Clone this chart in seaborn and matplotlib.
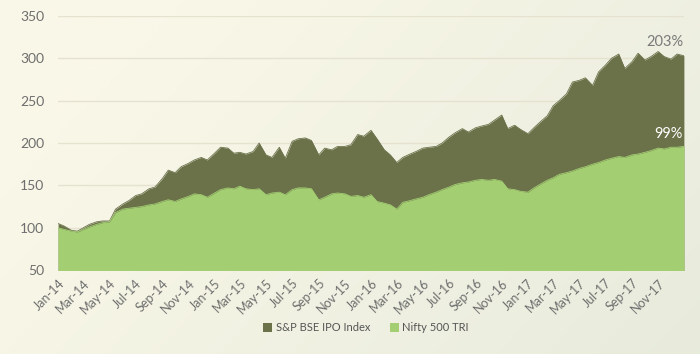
import numpy as np
import pandas as pd
import seaborn as sns
import matplotlib.pyplot as plt
import matplotlib.dates as mdates

# semi-monthly readings (1st and 16th of each month), Jan-2014 .. Dec-2017, plus year end
dates = list(pd.date_range("2014-01-01", "2017-12-16", freq="SMS")) + [pd.Timestamp("2017-12-31")]

ipo_index = [
    105, 102, 97, 96, 100, 104, 107, 108, 108, 122, 128, 132,
    138, 140, 146, 148, 158, 168, 165, 172, 176, 180, 183, 180,
    188, 195, 194, 188, 189, 187, 190, 200, 186, 183, 195, 182,
    202, 205, 206, 203, 186, 194, 192, 196, 196, 198, 210, 208,
    215, 205, 192, 186, 177, 183, 187, 190, 194, 195, 196, 200,
    207, 212, 217, 213, 218, 220, 222, 227, 233, 217, 221, 216,
    211, 218, 226, 232, 244, 250, 258, 272, 274, 277, 268, 284,
    292, 300, 305, 288, 296, 306, 298, 302, 308, 302, 299, 305,
    303,
]
nifty_500 = [
    100, 98, 96, 95, 98, 101, 104, 106, 107, 118, 122, 123,
    124, 125, 127, 128, 131, 133, 131, 134, 137, 140, 139, 136,
    141, 145, 147, 146, 149, 146, 145, 146, 139, 141, 142, 139,
    145, 147, 147, 146, 133, 136, 140, 141, 140, 137, 138, 136,
    139, 131, 129, 127, 122, 130, 132, 134, 136, 139, 142, 145,
    148, 151, 153, 154, 156, 157, 156, 157, 155, 146, 145, 143,
    142, 147, 152, 156, 159, 163, 165, 167, 170, 172, 175, 177,
    180, 182, 184, 183, 186, 187, 189, 191, 194, 193, 195, 195,
    196,
]

df = pd.DataFrame({"date": dates, "S&P BSE IPO Index": ipo_index, "Nifty 500 TRI": nifty_500})

DARK = "#6b724a"
LIGHT = "#a3cf72"
BG = "#f7f5e5"

sns.set_theme(style="white")
plt.rcParams["font.family"] = ["Lato", "DejaVu Sans"]

fig = plt.figure(figsize=(7, 3.54), dpi=100)
fig.patch.set_facecolor(BG)

# soft background gradient (cream to pale green-grey)
bg_ax = fig.add_axes([0, 0, 1, 1], zorder=-1)
grad = np.linspace(0, 1, 256)
gx, gy = np.meshgrid(grad, grad)
mix = np.clip(0.75 * gx + 0.35 * gy - 0.2, 0, 1)[..., None]
c1 = np.array([0xf9, 0xf7, 0xe8]) / 255
c2 = np.array([0xe6, 0xea, 0xdb]) / 255
bg_ax.imshow(c1 * (1 - mix) + c2 * mix, aspect="auto", extent=[0, 1, 0, 1])
bg_ax.axis("off")

ax = fig.add_axes([0.083, 0.237, 0.894, 0.718])
ax.set_facecolor("none")

sns.lineplot(data=df, x="date", y="S&P BSE IPO Index", ax=ax, color=DARK,
             linewidth=0.6, legend=False)
h_ipo = ax.fill_between(df["date"], 0, df["S&P BSE IPO Index"], color=DARK, linewidth=0)
sns.lineplot(data=df, x="date", y="Nifty 500 TRI", ax=ax, color=LIGHT,
             linewidth=0.6, legend=False)
h_nifty = ax.fill_between(df["date"], 0, df["Nifty 500 TRI"], color=LIGHT, linewidth=0)

ax.set_ylim(50, 350)
ax.set_yticks([50, 100, 150, 200, 250, 300, 350])
ax.set_xlim(pd.Timestamp("2014-01-01"), pd.Timestamp("2017-12-31"))
ax.xaxis.set_major_locator(mdates.MonthLocator(bymonth=[1, 3, 5, 7, 9, 11]))
ax.xaxis.set_major_formatter(mdates.DateFormatter("%b-%y"))
ax.set_xlabel("")
ax.set_ylabel("")

ax.grid(axis="y", color="#e6e2d0", linewidth=1)
ax.set_axisbelow(True)
for s in ax.spines.values():
    s.set_visible(False)

ax.tick_params(axis="y", labelsize=10, colors="#6e6e6e", length=0, pad=10)
ax.tick_params(axis="x", labelsize=9, colors="#6e6e6e", length=3, color="#d8d8cc",
               direction="out", pad=2)
plt.setp(ax.get_xticklabels(), rotation=45, ha="right", rotation_mode="anchor")

ax.text(pd.Timestamp("2017-12-31"), ipo_index[-1] + 8, "203%", ha="right", va="bottom",
        fontsize=10.5, color="#7a7a7a")
ax.text(pd.Timestamp("2017-12-27"), nifty_500[-1] + 6, "99%", ha="right", va="bottom",
        fontsize=10.5, color="white")

fig.legend([h_ipo, h_nifty], ["S&P BSE IPO Index", "Nifty 500 TRI"], loc="lower center",
           bbox_to_anchor=(0.523, 0.03), ncol=2, frameon=False, fontsize=8,
           handlelength=0.8, handleheight=0.8, handletextpad=0.3, columnspacing=1.8,
           labelcolor="#555555")

fig.savefig("out.png", dpi=100, facecolor=fig.get_facecolor())
